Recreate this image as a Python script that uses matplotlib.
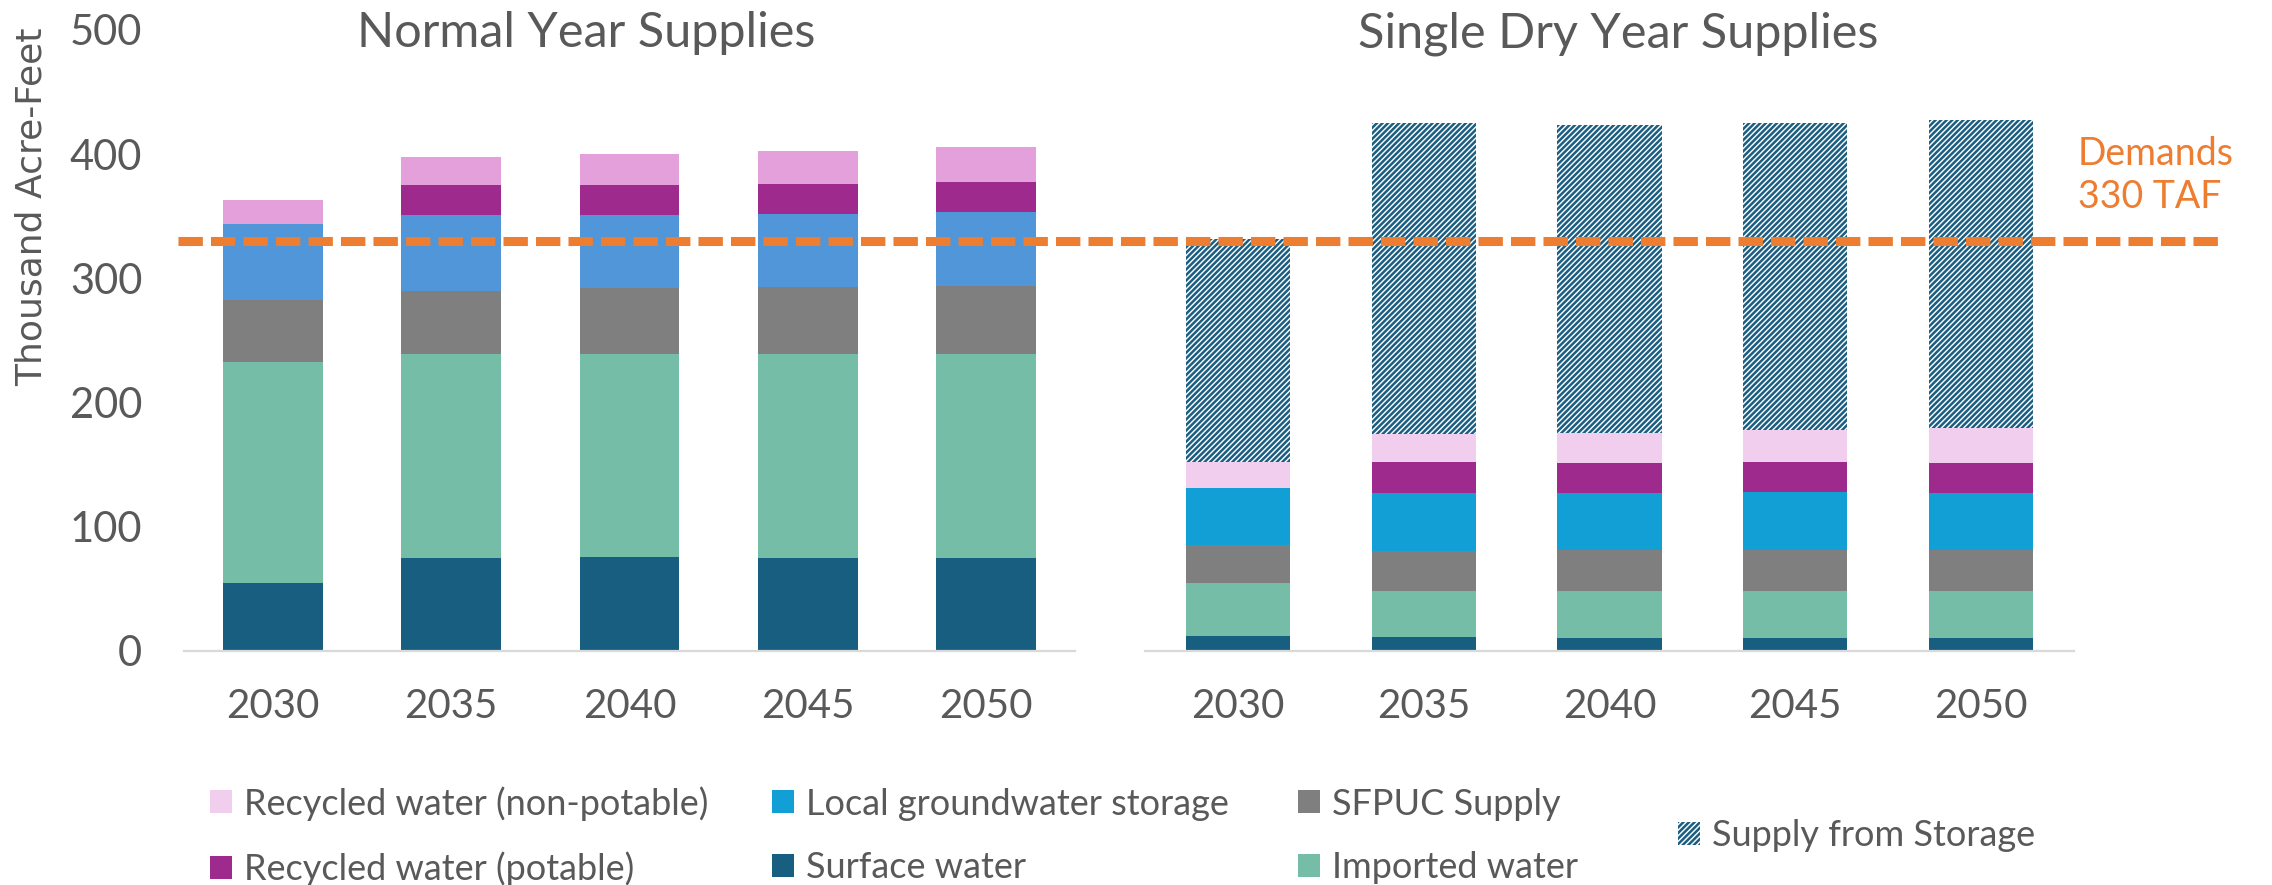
import matplotlib
matplotlib.use('Agg')
import matplotlib.pyplot as plt
import numpy as np
from matplotlib.patches import Patch
from matplotlib.lines import Line2D
from matplotlib import transforms

plt.rcParams['font.family'] = ['Lato', 'DejaVu Sans']
plt.rcParams['hatch.linewidth'] = 1.8

# Data (thousand acre-feet)
years = ['2030', '2035', '2040', '2045', '2050']

# Normal year supplies
surface_normal = [55, 75, 76, 75, 75]
imported_normal = [178, 164, 163, 164, 164]
sfpuc_normal = [50, 51, 53, 54, 55]
groundwater_normal = [61, 61, 59, 59, 59.5]
recycled_potable_normal = [0, 24, 24, 24, 24]
recycled_nonpotable_normal = [19.5, 22.7, 24.9, 26.4, 28.5]

# Single dry year supplies
surface_dry = [12, 11, 10.5, 10.5, 10.5]
imported_dry = [43, 37.5, 37.5, 37.5, 37.5]
sfpuc_dry = [30, 32, 33, 33.5, 33]
groundwater_dry = [46, 47, 46, 46.5, 46]
recycled_potable_dry = [0, 25, 24.5, 24.5, 24.5]
recycled_nonpotable_dry = [21, 22, 24, 25.5, 28]
storage_dry = [180, 251, 248, 247, 248]

demand = 330
demand_label = 'Demands\n330 TAF'

# Colors
c_surface = '#175E81'
c_imported = '#75BDA7'
c_sfpuc = '#7F7F7F'
c_gw_normal = '#5096D9'
c_gw_dry = '#119FD6'
c_potable = '#9E2A8E'
c_nonpot_normal = '#E3A0DB'
c_nonpot_dry = '#F1CEEE'
c_storage = '#1B5E82'
c_orange = '#ED7D31'
c_text = '#595959'
storage_hatch = '//////'

W, H = 2272, 885
fig = plt.figure(figsize=(W / 100, H / 100), dpi=100)

bottom_px, top_px = 651, 30
ax1 = fig.add_axes([184 / W, (H - bottom_px) / H, (1075 - 184) / W, (bottom_px - top_px) / H])
ax2 = fig.add_axes([1145 / W, (H - bottom_px) / H, (2074 - 1145) / W, (bottom_px - top_px) / H])


def stack_bars(ax, layers, width=0.56):
    x = np.arange(len(years))
    base = np.zeros(len(years))
    for vals, color, hatch in layers:
        vals = np.array(vals, dtype=float)
        if hatch:
            ax.bar(x, vals, width, bottom=base, facecolor='white', edgecolor=color,
                   hatch=hatch, linewidth=0)
        else:
            ax.bar(x, vals, width, bottom=base, color=color, linewidth=0)
        base += vals


stack_bars(ax1, [
    (surface_normal, c_surface, None),
    (imported_normal, c_imported, None),
    (sfpuc_normal, c_sfpuc, None),
    (groundwater_normal, c_gw_normal, None),
    (recycled_potable_normal, c_potable, None),
    (recycled_nonpotable_normal, c_nonpot_normal, None),
])

stack_bars(ax2, [
    (surface_dry, c_surface, None),
    (imported_dry, c_imported, None),
    (sfpuc_dry, c_sfpuc, None),
    (groundwater_dry, c_gw_dry, None),
    (recycled_potable_dry, c_potable, None),
    (recycled_nonpotable_dry, c_nonpot_dry, None),
    (storage_dry, c_storage, storage_hatch),
])

for ax in (ax1, ax2):
    ax.set_xlim(-0.5, len(years) - 0.5)
    ax.set_ylim(0, 500)
    for side in ('top', 'right', 'left'):
        ax.spines[side].set_visible(False)
    ax.spines['bottom'].set_color('#D9D9D9')
    ax.spines['bottom'].set_linewidth(1.6)
    ax.set_xticks(np.arange(len(years)))
    ax.set_xticklabels(years)
    ax.tick_params(axis='x', length=0, pad=27, labelsize=29, labelcolor=c_text)

ax1.set_yticks(np.arange(0, 501, 100))
ax1.tick_params(axis='y', length=0, pad=30, labelsize=30, labelcolor=c_text)
ax2.set_yticks([])

# Titles and axis label
fig.text(586 / W, (H - 47) / H, 'Normal Year Supplies', ha='center', va='baseline',
         fontsize=35, color=c_text)
fig.text(1618 / W, (H - 47) / H, 'Single Dry Year Supplies', ha='center', va='baseline',
         fontsize=35, color=c_text)
fig.text(32 / W, (H - 207) / H, 'Thousand Acre-Feet', rotation=90, ha='center', va='center',
         fontsize=26, color=c_text, family='DejaVu Sans')

# Demand line across both panels
trans = transforms.blended_transform_factory(fig.transFigure, ax1.transData)
fig.add_artist(Line2D([178 / W, 2219 / W], [demand, demand], transform=trans,
                      color=c_orange, linewidth=6.5, linestyle=(0, (2.7, 0.9))))
# baseline of the last line ("330 TAF")
fig.text(2078 / W, (H - 208) / H, demand_label, ha='left', va='baseline',
         fontsize=27, color=c_orange, linespacing=1.25)

# Legend (one column at a time)
legend_cols = [
    (210, [Patch(facecolor=c_nonpot_dry, label='Recycled water (non-potable)'),
           Patch(facecolor=c_potable, label='Recycled water (potable)')]),
    (772, [Patch(facecolor=c_gw_dry, label='Local groundwater storage'),
           Patch(facecolor=c_surface, label='Surface water')]),
    (1298, [Patch(facecolor=c_sfpuc, label='SFPUC Supply'),
            Patch(facecolor=c_imported, label='Imported water')]),
    (1678, [Patch(facecolor='white', edgecolor=c_storage, hatch=storage_hatch, linewidth=0,
                  label='Supply from Storage')]),
]
for xpx, handles in legend_cols:
    fig.legend(handles=handles, loc='center left', bbox_to_anchor=(xpx / W, (H - 836) / H),
               frameon=False, fontsize=26, labelcolor=c_text, handlelength=0.6,
               handleheight=0.6, handletextpad=0.35, labelspacing=0.85,
               borderpad=0, borderaxespad=0)

fig.savefig('out.png', dpi=100)
